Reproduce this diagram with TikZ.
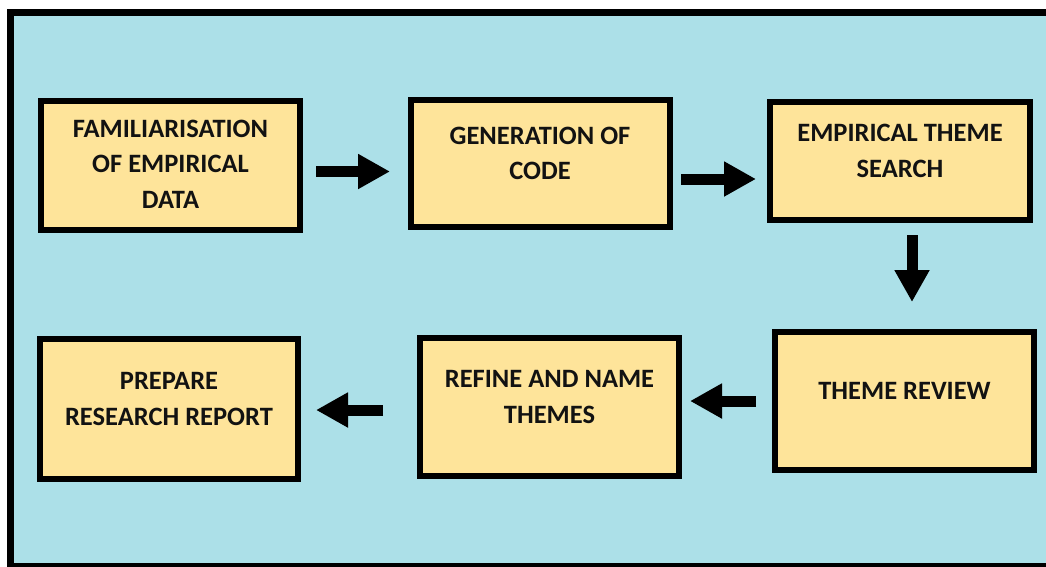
\documentclass[tikz,border=0pt]{standalone}
\usepackage{fontspec}
\setmainfont{Carlito}
\usetikzlibrary{arrows.meta}
\definecolor{bgcyan}{RGB}{172,224,232}
\definecolor{boxfill}{RGB}{254,228,154}
\tikzset{
  boxnode/.style={draw=black, line width=6pt, fill=boxfill, rectangle, inner sep=0pt},
  boxtext/.style={align=center, inner sep=0pt, text=black!93,
    font=\fontsize{26.5}{35.5}\selectfont\bfseries},
  bigarrow/.style={draw=black, line width=11pt,
    -{Triangle[length=32pt,width=33pt]}}
}
\begin{document}
\begin{tikzpicture}[x=1pt,y=-1pt]
\useasboundingbox (0,0) rectangle (1046,566);
\clip (0,0) rectangle (1046,566);
\fill[white] (0,0) rectangle (1046,566);
% background panel with frame
\fill[bgcyan] (7,9) rectangle (1060,580);
\draw[black, line width=7pt] (10.5,580) -- (10.5,12.5) -- (1060,12.5);
\draw[black, line width=7pt] (7,566.5) -- (1060,566.5);

% boxes
\node[boxnode, minimum width=259pt, minimum height=129pt] (b1) at (170.5,165.5) {};
\node[boxnode, minimum width=259pt, minimum height=127pt] (b2) at (540.5,163.5) {};
\node[boxnode, minimum width=260pt, minimum height=118pt] (b3) at (900,161) {};
\node[boxnode, minimum width=259pt, minimum height=138pt] (b4) at (904.5,401) {};
\node[boxnode, minimum width=259pt, minimum height=138pt] (b5) at (549.5,407) {};
\node[boxnode, minimum width=258pt, minimum height=140pt] (b6) at (169,409) {};

% texts
\node[boxtext] (t1) at (170.5,164) {FAMILIARISATION\\OF EMPIRICAL\\DATA};
\node[boxtext] (t2) at (540,153.5) {GENERATION OF\\CODE};
\node[boxtext] (t3) at (900,151) {EMPIRICAL THEME\\SEARCH};
\node[boxtext] (t4) at (904.5,390.5) {THEME REVIEW};
\node[boxtext] (t5) at (549.5,397) {REFINE AND NAME\\THEMES};
\node[boxtext] (t6) at (169,399) {PREPARE\\RESEARCH REPORT};

% arrows
\draw[bigarrow, shorten <=13pt, shorten >=18pt] ([yshift=-6pt]b1.east) -- ([yshift=-8pt]b2.west);
\draw[bigarrow, shorten <=8pt, shorten >=11pt] ([yshift=-15.5pt]b2.east) -- ([yshift=-18pt]b3.west);
\draw[bigarrow, shorten <=12pt, shorten >=27pt] ([xshift=12pt]b3.south) -- ([xshift=7.5pt]b4.north);
\draw[bigarrow, shorten <=16pt, shorten >=8pt] (b4.west) -- ([yshift=6pt]b5.east);
\draw[bigarrow, shorten <=34pt, shorten >=15pt] ([yshift=-3pt]b5.west) -- ([yshift=-1pt]b6.east);
\end{tikzpicture}
\end{document}
